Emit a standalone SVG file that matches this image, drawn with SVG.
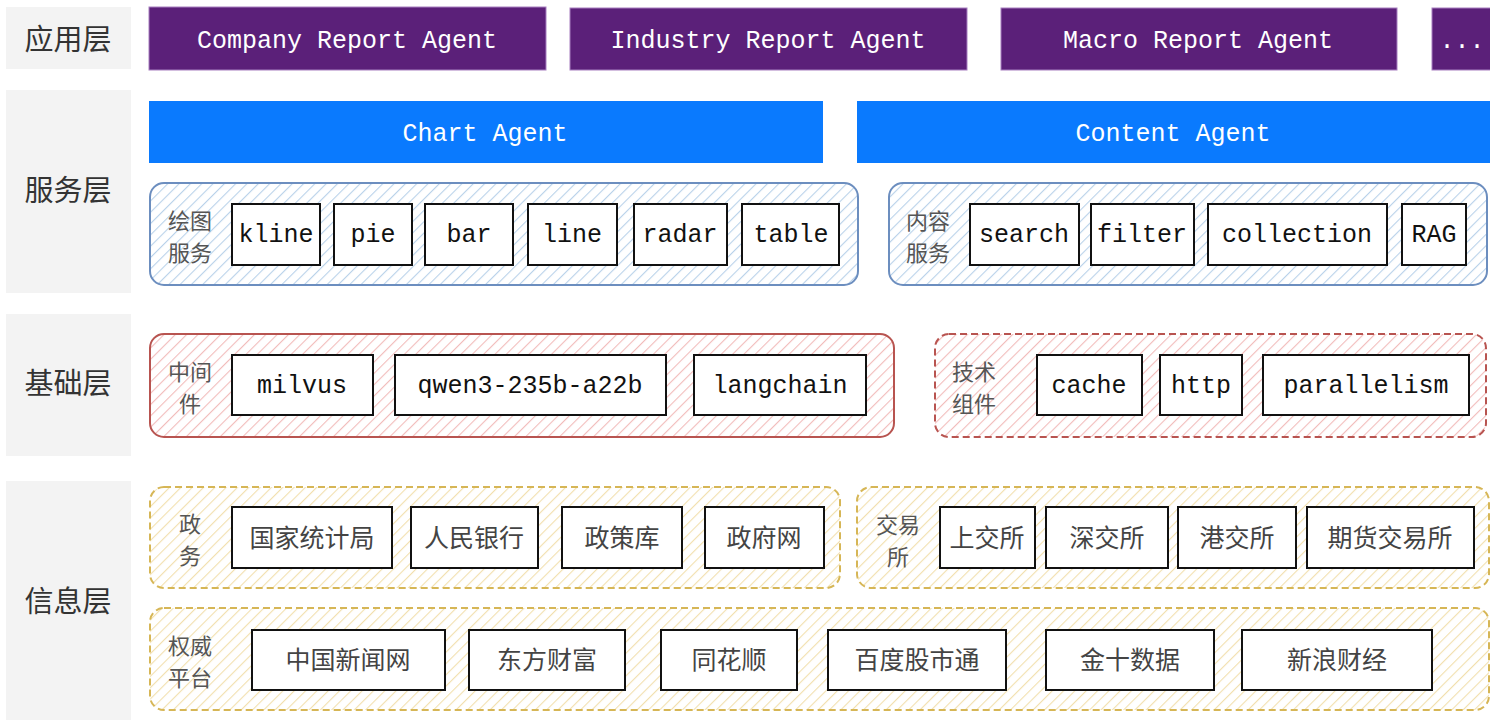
<svg xmlns="http://www.w3.org/2000/svg" width="1490" height="722" viewBox="0 0 1490 722">
<defs>
<pattern id="hb" patternUnits="userSpaceOnUse" width="8" height="8" patternTransform="rotate(45)"><rect width="8" height="8" fill="#ffffff"/><line x1="0" y1="0" x2="0" y2="8" stroke="#b9d2ea" stroke-width="2.2"/></pattern>
<pattern id="hr" patternUnits="userSpaceOnUse" width="8" height="8" patternTransform="rotate(45)"><rect width="8" height="8" fill="#ffffff"/><line x1="0" y1="0" x2="0" y2="8" stroke="#f2bcbb" stroke-width="2.2"/></pattern>
<pattern id="hy" patternUnits="userSpaceOnUse" width="8" height="8" patternTransform="rotate(45)"><rect width="8" height="8" fill="#ffffff"/><line x1="0" y1="0" x2="0" y2="8" stroke="#f2e0ae" stroke-width="2.2"/></pattern>
</defs>
<style>
.lay{fill:#f3f3f3}
.layt{font-family:"Noto Sans CJK SC","Noto Sans",sans-serif;font-size:29px;fill:#333;text-anchor:middle;dominant-baseline:central}
.app{fill:#5b2079;stroke:#a77fc0;stroke-width:1}
.svc{fill:#0a7afe}
.mono{font-family:"Liberation Mono","DejaVu Sans Mono",monospace;font-size:25px;text-anchor:middle;dominant-baseline:central}
.wt{fill:#ffffff}
.bk{fill:#111111}
.box{fill:#ffffff;stroke:#111;stroke-width:2}
.gb{fill:url(#hb);stroke:#6c8ebf;stroke-width:2}
.gr{fill:url(#hr);stroke:#b85450;stroke-width:2}
.grd{fill:url(#hr);stroke:#b85450;stroke-width:2;stroke-dasharray:7 4}
.gy{fill:url(#hy);stroke:#d6b656;stroke-width:2;stroke-dasharray:7 4}
.cn{font-family:"Noto Sans CJK SC","Noto Sans",sans-serif;font-size:25px;fill:#444;text-anchor:middle;dominant-baseline:central}
.gl{font-family:"Noto Sans CJK SC","Noto Sans",sans-serif;font-size:22px;fill:#555;text-anchor:middle;dominant-baseline:central}
</style>
<g id="layers">
<g id="layer-app"><rect class="lay" x="6" y="7" width="125" height="62"/><text class="layt" x="68" y="37">应用层</text></g>
<g id="layer-svc"><rect class="lay" x="6" y="90" width="125" height="203"/><text class="layt" x="68" y="188">服务层</text></g>
<g id="layer-base"><rect class="lay" x="6" y="314" width="125" height="142"/><text class="layt" x="68" y="381">基础层</text></g>
<g id="layer-info"><rect class="lay" x="6" y="481" width="125" height="239"/><text class="layt" x="68" y="599">信息层</text></g>
</g>
<g id="app-agents">
<g id="company"><rect class="app" x="149" y="7" width="397" height="63"/><text class="mono wt" x="347" y="41">Company Report Agent</text></g>
<g id="industry"><rect class="app" x="570" y="8" width="397" height="62"/><text class="mono wt" x="768" y="41">Industry Report Agent</text></g>
<g id="macro"><rect class="app" x="1001" y="8" width="396" height="62"/><text class="mono wt" x="1198" y="41">Macro Report Agent</text></g>
<g id="more"><rect class="app" x="1432" y="8" width="62" height="62"/><text class="mono wt" x="1462" y="41">...</text></g>
</g>
<g id="service-agents">
<g id="chart-agent"><rect class="svc" x="149" y="101" width="674" height="62"/><text class="mono wt" x="485" y="134">Chart Agent</text></g>
<g id="content-agent"><rect class="svc" x="857" y="101" width="633" height="62"/><text class="mono wt" x="1173" y="134">Content Agent</text></g>
</g>
<g id="draw-service">
<rect class="gb" x="150" y="183" width="708" height="102" rx="14"/>
<text class="gl" x="190" y="219">绘图<tspan x="190" dy="32">服务</tspan></text>
<g id="kline"><rect class="box" x="232" y="204" width="88" height="61"/><text class="mono bk" x="276" y="235">kline</text></g>
<g id="pie"><rect class="box" x="334" y="204" width="78" height="61"/><text class="mono bk" x="373" y="235">pie</text></g>
<g id="bar"><rect class="box" x="425" y="204" width="88" height="61"/><text class="mono bk" x="469" y="235">bar</text></g>
<g id="line"><rect class="box" x="528" y="204" width="89" height="61"/><text class="mono bk" x="572" y="235">line</text></g>
<g id="radar"><rect class="box" x="634" y="204" width="93" height="61"/><text class="mono bk" x="680" y="235">radar</text></g>
<g id="table"><rect class="box" x="742" y="204" width="97" height="61"/><text class="mono bk" x="791" y="235">table</text></g>
</g>
<g id="content-service">
<rect class="gb" x="889" y="183" width="598" height="102" rx="14"/>
<text class="gl" x="928" y="219">内容<tspan x="928" dy="32">服务</tspan></text>
<g id="search"><rect class="box" x="970" y="204" width="109" height="61"/><text class="mono bk" x="1024" y="235">search</text></g>
<g id="filter"><rect class="box" x="1091" y="204" width="103" height="61"/><text class="mono bk" x="1142" y="235">filter</text></g>
<g id="collection"><rect class="box" x="1208" y="204" width="179" height="61"/><text class="mono bk" x="1297" y="235">collection</text></g>
<g id="rag"><rect class="box" x="1402" y="204" width="64" height="61"/><text class="mono bk" x="1434" y="235">RAG</text></g>
</g>
<g id="middleware">
<rect class="gr" x="150" y="334" width="744" height="103" rx="14"/>
<text class="gl" x="190" y="370">中间<tspan x="190" dy="32">件</tspan></text>
<g id="milvus"><rect class="box" x="232" y="355" width="141" height="60"/><text class="mono bk" x="302" y="386">milvus</text></g>
<g id="qwen"><rect class="box" x="395" y="355" width="271" height="60"/><text class="mono bk" x="530" y="386">qwen3-235b-a22b</text></g>
<g id="langchain"><rect class="box" x="694" y="355" width="172" height="60"/><text class="mono bk" x="780" y="386">langchain</text></g>
</g>
<g id="tech">
<rect class="grd" x="935" y="334" width="551" height="103" rx="14"/>
<text class="gl" x="974" y="370">技术<tspan x="974" dy="32">组件</tspan></text>
<g id="cache"><rect class="box" x="1037" y="355" width="105" height="60"/><text class="mono bk" x="1089" y="386">cache</text></g>
<g id="http"><rect class="box" x="1160" y="355" width="82" height="60"/><text class="mono bk" x="1201" y="386">http</text></g>
<g id="parallelism"><rect class="box" x="1263" y="355" width="206" height="60"/><text class="mono bk" x="1366" y="386">parallelism</text></g>
</g>
<g id="gov">
<rect class="gy" x="150" y="487" width="690" height="101" rx="14"/>
<text class="gl" x="190" y="522">政<tspan x="190" dy="32">务</tspan></text>
<g id="stats"><rect class="box" x="232" y="507" width="160" height="61"/><text class="cn" x="312" y="536">国家统计局</text></g>
<g id="pboc"><rect class="box" x="411" y="507" width="127" height="61"/><text class="cn" x="474" y="536">人民银行</text></g>
<g id="policy"><rect class="box" x="562" y="507" width="120" height="61"/><text class="cn" x="622" y="536">政策库</text></g>
<g id="govweb"><rect class="box" x="705" y="507" width="119" height="61"/><text class="cn" x="764" y="536">政府网</text></g>
</g>
<g id="exchange">
<rect class="gy" x="857" y="487" width="632" height="101" rx="14"/>
<text class="gl" x="898" y="523">交易<tspan x="898" dy="32">所</tspan></text>
<g id="sse"><rect class="box" x="940" y="507" width="95" height="61"/><text class="cn" x="987" y="536">上交所</text></g>
<g id="szse"><rect class="box" x="1046" y="507" width="122" height="61"/><text class="cn" x="1107" y="536">深交所</text></g>
<g id="hkex"><rect class="box" x="1178" y="507" width="118" height="61"/><text class="cn" x="1237" y="536">港交所</text></g>
<g id="futures"><rect class="box" x="1307" y="507" width="167" height="61"/><text class="cn" x="1390" y="536">期货交易所</text></g>
</g>
<g id="platform">
<rect class="gy" x="150" y="608" width="1339" height="102" rx="14"/>
<text class="gl" x="190" y="644">权威<tspan x="190" dy="32">平台</tspan></text>
<g id="chinanews"><rect class="box" x="252" y="630" width="193" height="60"/><text class="cn" x="348" y="658">中国新闻网</text></g>
<g id="eastmoney"><rect class="box" x="469" y="630" width="156" height="60"/><text class="cn" x="547" y="658">东方财富</text></g>
<g id="ths"><rect class="box" x="661" y="630" width="136" height="60"/><text class="cn" x="729" y="658">同花顺</text></g>
<g id="baidu"><rect class="box" x="828" y="630" width="178" height="60"/><text class="cn" x="917" y="658">百度股市通</text></g>
<g id="jin10"><rect class="box" x="1046" y="630" width="168" height="60"/><text class="cn" x="1130" y="658">金十数据</text></g>
<g id="sina"><rect class="box" x="1242" y="630" width="190" height="60"/><text class="cn" x="1337" y="658">新浪财经</text></g>
</g>
<g id="connectors"></g>
</svg>
